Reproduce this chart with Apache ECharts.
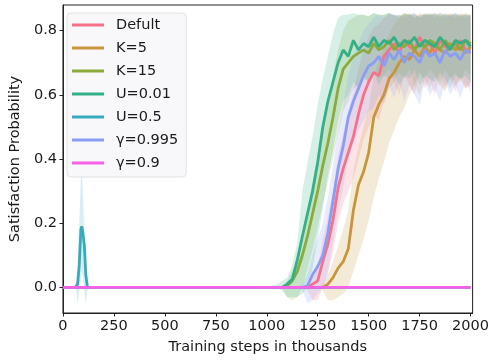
<!DOCTYPE html>
<html>
<head>
<meta charset="utf-8">
<script src="https://cdn.jsdelivr.net/npm/echarts@6/dist/echarts.min.js"></script>
<style>
  html, body { margin: 0; padding: 0; background: #fff; }
  #chart { width: 492px; height: 360px; }
</style>
</head>
<body>
<div id="chart"></div>
<script>
// training steps (thousands) for the learning phase
const steps = [1000, 1025, 1050, 1075, 1100, 1125, 1150, 1175, 1200, 1225,
  1250, 1275, 1300, 1325, 1350, 1375, 1400, 1425, 1450, 1475,
  1500, 1525, 1550, 1575, 1600, 1625, 1650, 1675, 1700, 1725,
  1750, 1775, 1800, 1825, 1850, 1875, 1900, 1925, 1950, 1975, 2000];

const defult = [0, 0, 0, 0, 0, 0, 0, 0, 0,
  0.01, 0.02, 0.08, 0.135, 0.21, 0.31, 0.37, 0.42, 0.47, 0.54, 0.60, 0.64, 0.67, 0.66, 0.72, 0.74,
  0.76, 0.73, 0.77, 0.75, 0.74, 0.78, 0.75, 0.76, 0.73, 0.77, 0.75, 0.76, 0.74, 0.77, 0.74, 0.74];
const defultLo = [0, 0, 0, 0, 0, 0, 0, 0, -0.01,
  -0.04, -0.04, 0, 0.04, 0.11, 0.2, 0.26, 0.3, 0.34, 0.40, 0.46, 0.5, 0.54, 0.52, 0.58, 0.62,
  0.64, 0.6, 0.66, 0.63, 0.6, 0.67, 0.62, 0.65, 0.6, 0.66, 0.62, 0.65, 0.61, 0.66, 0.62, 0.63];
const defultHi = [0, 0, 0, 0, 0, 0, 0, 0, 0.01,
  0.03, 0.06, 0.15, 0.22, 0.30, 0.41, 0.48, 0.55, 0.61, 0.68, 0.74, 0.78, 0.81, 0.82, 0.84, 0.85,
  0.85, 0.84, 0.855, 0.85, 0.84, 0.855, 0.85, 0.85, 0.84, 0.855, 0.85, 0.85, 0.84, 0.855, 0.85, 0.85];

const k5 = [0, 0, 0, 0, 0, 0, 0, 0, 0, 0, 0, 0,
  0.01, 0.03, 0.06, 0.08, 0.12, 0.24, 0.32, 0.36, 0.42, 0.53, 0.57, 0.60, 0.65, 0.67,
  0.70, 0.72, 0.71, 0.74, 0.72, 0.75, 0.73, 0.76, 0.74, 0.73, 0.76, 0.74, 0.75, 0.73, 0.75];
const k5Lo = [0, 0, 0, 0, 0, 0, 0, 0, 0, 0, 0,
  -0.01, -0.04, -0.04, -0.03, -0.02, 0, 0.05, 0.10, 0.15, 0.21, 0.28, 0.34, 0.39, 0.45, 0.49,
  0.53, 0.56, 0.60, 0.63, 0.6, 0.65, 0.62, 0.66, 0.63, 0.61, 0.66, 0.63, 0.65, 0.62, 0.64];
const k5Hi = [0, 0, 0, 0, 0, 0, 0, 0, 0, 0, 0,
  0.01, 0.04, 0.08, 0.13, 0.18, 0.24, 0.36, 0.44, 0.50, 0.56, 0.66, 0.71, 0.75, 0.79, 0.82,
  0.84, 0.85, 0.85, 0.855, 0.84, 0.85, 0.85, 0.855, 0.85, 0.84, 0.855, 0.85, 0.85, 0.84, 0.85];

const k15 = [0, 0, 0, 0,
  0.005, 0.02, 0.05, 0.10, 0.16, 0.23, 0.30, 0.38, 0.45, 0.53, 0.62, 0.68, 0.70, 0.72, 0.73, 0.74,
  0.73, 0.76, 0.74, 0.75, 0.77, 0.74, 0.76, 0.75, 0.77, 0.74, 0.76, 0.75, 0.77, 0.76, 0.74, 0.77,
  0.75, 0.76, 0.74, 0.77, 0.76];
const k15Lo = [0, 0, 0, 0,
  -0.03, -0.04, -0.03, 0, 0.06, 0.12, 0.19, 0.26, 0.33, 0.40, 0.48, 0.55, 0.58, 0.62, 0.63, 0.66,
  0.64, 0.67, 0.65, 0.66, 0.68, 0.64, 0.67, 0.65, 0.68, 0.63, 0.67, 0.65, 0.68, 0.66, 0.63, 0.68,
  0.65, 0.67, 0.64, 0.68, 0.66];
const k15Hi = [0, 0, 0, 0,
  0.02, 0.05, 0.10, 0.17, 0.25, 0.33, 0.41, 0.50, 0.58, 0.66, 0.74, 0.80, 0.83, 0.84, 0.85, 0.85,
  0.845, 0.855, 0.85, 0.85, 0.855, 0.845, 0.85, 0.85, 0.855, 0.84, 0.85, 0.85, 0.855, 0.85, 0.845, 0.855,
  0.85, 0.85, 0.845, 0.855, 0.85];

const u001 = [0, 0, 0, 0,
  0.01, 0.025, 0.085, 0.16, 0.23, 0.30, 0.39, 0.50, 0.58, 0.64, 0.70, 0.74, 0.72, 0.77, 0.74, 0.76,
  0.75, 0.78, 0.75, 0.77, 0.76, 0.78, 0.75, 0.77, 0.76, 0.78, 0.75, 0.77, 0.76, 0.75, 0.78, 0.76,
  0.74, 0.77, 0.76, 0.77, 0.75];
const u001Lo = [0, 0, 0, -0.01, -0.03, -0.03, -0.03, -0.02, 0, 0.06,
  0.15, 0.25, 0.35, 0.43, 0.52, 0.58, 0.60, 0.64, 0.62, 0.65,
  0.64, 0.67, 0.63, 0.66, 0.65, 0.67, 0.63, 0.66, 0.65, 0.68,
  0.63, 0.66, 0.65, 0.64, 0.67, 0.65, 0.62, 0.66, 0.65, 0.66, 0.64];
const u001Hi = [0, 0.005, 0.01, 0.02, 0.03, 0.07, 0.14, 0.30, 0.39, 0.47,
  0.57, 0.65, 0.72, 0.79, 0.84, 0.85, 0.85, 0.855, 0.85, 0.85,
  0.845, 0.855, 0.85, 0.85, 0.855, 0.85, 0.845, 0.855, 0.85, 0.85,
  0.845, 0.855, 0.85, 0.85, 0.855, 0.85, 0.845, 0.855, 0.85, 0.85, 0.845];

const g995 = [0, 0, 0, 0, 0, 0, 0, 0,
  0.005, 0.04, 0.065, 0.10, 0.17, 0.27, 0.37, 0.44, 0.53, 0.58, 0.62, 0.66, 0.69, 0.70, 0.72,
  0.69, 0.73, 0.71, 0.74, 0.70, 0.73, 0.72, 0.70, 0.74, 0.72, 0.73, 0.70, 0.74, 0.72, 0.73,
  0.71, 0.74, 0.73];
const g995Lo = [0, 0, 0, 0, 0, 0, 0, -0.01,
  -0.05, -0.04, -0.02, 0, 0.05, 0.14, 0.24, 0.31, 0.40, 0.45, 0.49, 0.52, 0.55, 0.56, 0.6,
  0.57, 0.63, 0.59, 0.64, 0.58, 0.63, 0.6, 0.57, 0.64, 0.6, 0.62, 0.58, 0.64, 0.6, 0.63,
  0.59, 0.64, 0.61];
const g995Hi = [0, 0, 0, 0, 0, 0, 0, 0.01,
  0.04, 0.1, 0.15, 0.2, 0.28, 0.38, 0.49, 0.57, 0.66, 0.72, 0.76, 0.80, 0.82, 0.84, 0.85,
  0.84, 0.855, 0.85, 0.85, 0.84, 0.85, 0.855, 0.84, 0.85, 0.85, 0.855, 0.84, 0.85, 0.85, 0.855,
  0.84, 0.85, 0.85];

// U=0.5 only spikes once early on
const spikeSteps = [0, 60, 65, 72, 80, 88, 92, 98, 105, 112, 120, 130, 2000];
const u05 = [0, 0, 0, 0.01, 0.07, 0.18, 0.19, 0.17, 0.13, 0.04, 0, 0, 0];
const u05Lo = [0, 0, -0.01, -0.05, -0.01, 0.03, 0.05, 0.03, -0.01, -0.05, -0.01, 0, 0];
const u05Hi = [0, 0, 0.01, 0.06, 0.2, 0.34, 0.36, 0.3, 0.15, 0.05, 0.01, 0, 0];

const flatSteps = [0, 2000];
const g09 = [0, 0];

const names = ['Defult', 'K=5', 'K=15', 'U=0.01', 'U=0.5', 'γ=0.995', 'γ=0.9'];
const colors = ['#f77189', '#c9943a', '#8aab3a', '#33b085', '#38aabd', '#8a9df5', '#f562e6'];

const chart = echarts.init(document.getElementById('chart'), null, { renderer: 'canvas' });

const withStart = (xs, ys) => {
  const pts = xs.map((x, i) => [x, ys[i]]);
  return xs[0] > 0 ? [[0, 0]].concat(pts) : pts;
};

const lineSeries = (name, color, xs, ys) => ({
  name,
  type: 'line',
  data: withStart(xs, ys),
  showSymbol: false,
  lineStyle: { color, width: 2.8 },
  itemStyle: { color },
  z: 3,
  silent: true,
});

const bandSeries = (name, color, xs, lo, hi) => ({
  name: name + ' band',
  type: 'custom',
  data: xs.map((x, i) => [x, lo[i], hi[i]]),
  encode: { x: 0, y: [1, 2] },
  silent: true,
  z: 1,
  renderItem: (params, api) => {
    if (params.dataIndex !== 0) return null;
    const top = xs.map((x, i) => api.coord([x, hi[i]]));
    const bottom = xs.map((x, i) => api.coord([x, lo[i]])).reverse();
    return {
      type: 'polygon',
      shape: { points: top.concat(bottom) },
      style: { fill: color, opacity: 0.2 },
    };
  },
});

const font = 'DejaVu Sans';

chart.setOption({
  animation: false,
  grid: {
    left: 59, right: 16, top: 5, bottom: 44,
    show: true, borderColor: '#222', borderWidth: 1,
  },
  legend: {
    data: names,
    orient: 'vertical',
    left: 67, top: 13,
    icon: 'rect',
    itemWidth: 32, itemHeight: 3,
    itemGap: 7,
    padding: [4, 8, 6, 5],
    backgroundColor: '#f8f8fb',
    borderColor: '#e2e2e2', borderWidth: 1, borderRadius: 4,
    textStyle: { fontFamily: font, fontSize: 14.5, color: '#1a1a1a', lineHeight: 16, padding: [0, 0, 0, 7] },
  },
  xAxis: {
    type: 'value',
    min: 0, max: 2010, interval: 250,
    name: 'Training steps in thousands',
    nameLocation: 'middle', nameGap: 27,
    nameTextStyle: { fontFamily: font, fontSize: 14.5, color: '#1a1a1a' },
    axisLine: { onZero: false, lineStyle: { color: '#222', width: 1 } },
    axisTick: { show: true, length: 3.5, lineStyle: { color: '#222' } },
    axisLabel: {
      fontFamily: font, fontSize: 14.5, color: '#1a1a1a', margin: 6, showMaxLabel: false,
      formatter: v => String(v),
    },
    splitLine: { show: false },
  },
  yAxis: {
    type: 'value',
    min: -0.08, max: 0.88,
    name: 'Satisfaction Probability',
    nameLocation: 'middle', nameGap: 33,
    nameTextStyle: { fontFamily: font, fontSize: 14.5, color: '#1a1a1a' },
    axisLine: { show: true, lineStyle: { color: '#222', width: 1 } },
    axisTick: { show: true, length: 3.5, lineStyle: { color: '#222' } },
    axisLabel: {
      fontFamily: font, fontSize: 14.5, color: '#1a1a1a', margin: 6,
      showMinLabel: false, showMaxLabel: false,
      formatter: v => v.toFixed(1),
    },
    splitLine: { show: false },
  },
  series: [
    bandSeries(names[0], colors[0], steps, defultLo, defultHi),
    bandSeries(names[1], colors[1], steps, k5Lo, k5Hi),
    bandSeries(names[2], colors[2], steps, k15Lo, k15Hi),
    bandSeries(names[3], colors[3], steps, u001Lo, u001Hi),
    bandSeries(names[4], colors[4], spikeSteps, u05Lo, u05Hi),
    bandSeries(names[5], colors[5], steps, g995Lo, g995Hi),
    lineSeries(names[0], colors[0], steps, defult),
    lineSeries(names[1], colors[1], steps, k5),
    lineSeries(names[2], colors[2], steps, k15),
    lineSeries(names[3], colors[3], steps, u001),
    lineSeries(names[4], colors[4], spikeSteps, u05),
    lineSeries(names[5], colors[5], steps, g995),
    lineSeries(names[6], colors[6], flatSteps, g09),
  ],
});
</script>
</body>
</html>
